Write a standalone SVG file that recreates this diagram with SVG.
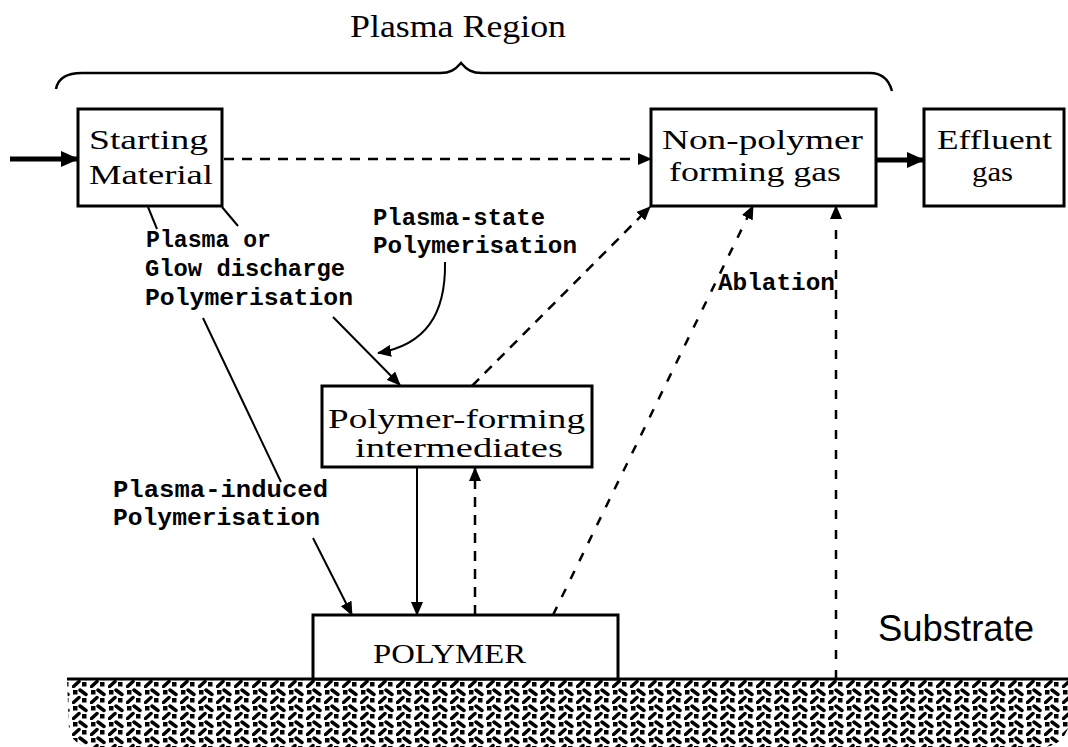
<svg xmlns="http://www.w3.org/2000/svg" width="1068" height="747" viewBox="0 0 1068 747">
<style>
.box{fill:#fff;stroke:#000;stroke-width:3}
.bt{font-family:"Liberation Serif","DejaVu Serif",serif;font-size:28px;fill:#000}
.lb{font-family:"Liberation Mono","DejaVu Sans Mono",monospace;font-weight:bold;font-size:23px;fill:#000}
.ln{fill:none;stroke:#000;stroke-width:2}
.thick{fill:none;stroke:#000;stroke-width:5}
.dash{fill:none;stroke:#000;stroke-width:2.5;stroke-dasharray:10 8}
.dash2{fill:none;stroke:#000;stroke-width:2.5;stroke-dasharray:9 11}
</style>
<defs>
<marker id="ah" markerUnits="userSpaceOnUse" markerWidth="14" markerHeight="12" refX="13" refY="6" orient="auto">
<path d="M0,0 L14,6 L0,12 Z" fill="#000"/>
</marker>
<marker id="ahb" markerUnits="userSpaceOnUse" markerWidth="18" markerHeight="16" refX="17" refY="8" orient="auto">
<path d="M0,0 L18,8 L0,16 Z" fill="#000"/>
</marker>
<pattern id="sub" patternUnits="userSpaceOnUse" width="18" height="16">
<rect width="18" height="16" fill="#fff"/>
<rect x="1" y="2" width="4.5" height="4.5" fill="#000"/>
<path d="M8,2 L14,6.5" stroke="#000" stroke-width="3.5" stroke-linecap="round"/>
<rect x="10" y="10" width="4.5" height="4.5" fill="#000"/>
<path d="M1.5,14.5 L7,9.5" stroke="#000" stroke-width="3.5" stroke-linecap="round"/>
</pattern>
</defs>

<g id="substrate">
<path d="M67,679 L1068,679 L1068,728 Q1062,745 1045,747 L92,747 Q72,745 69,730 Z" fill="url(#sub)"/>
<path d="M67,679 L1068,679" stroke="#000" stroke-width="3"/>
<text x="878" y="641" font-family="Liberation Sans, Arial, sans-serif" font-size="36" textLength="156" lengthAdjust="spacingAndGlyphs">Substrate</text>
</g>

<g id="plasma-region">
<path d="M56,89 C58,78 66,73 82,73 L440,73 C450,73 455,70 461,63 C467,70 472,73 482,73 L870,73 C882,73 889,80 892,91" fill="none" stroke="#000" stroke-width="2.5"/>
<text x="350" y="37" font-family="Liberation Serif, serif" font-size="32" textLength="216" lengthAdjust="spacingAndGlyphs">Plasma Region</text>
</g>

<g id="connectors">
<line class="thick" x1="10" y1="159" x2="78" y2="159" marker-end="url(#ahb)"/>
<line class="dash" x1="224" y1="159" x2="651" y2="159" marker-end="url(#ah)"/>
<line class="thick" x1="876" y1="160" x2="924" y2="160" marker-end="url(#ahb)"/>
<line class="ln" x1="148" y1="207" x2="157" y2="229"/>
<line class="ln" x1="203" y1="318" x2="281" y2="482"/>
<line class="ln" x1="313" y1="538" x2="352" y2="615" marker-end="url(#ah)"/>
<line class="ln" x1="222" y1="207" x2="238" y2="226"/>
<line class="ln" x1="333" y1="317" x2="400" y2="385" marker-end="url(#ah)"/>
<path class="ln" d="M445,262 C446,315 425,345 378,353" marker-end="url(#ah)"/>
<line class="dash" x1="472" y1="386" x2="650" y2="207" marker-end="url(#ah)"/>
<line class="ln" x1="417" y1="467" x2="417" y2="615" marker-end="url(#ah)"/>
<line class="dash" x1="475" y1="615" x2="475" y2="468" stroke-width="3" marker-end="url(#ah)"/>
<line class="dash2" x1="553" y1="615" x2="753" y2="206" marker-end="url(#ah)"/>
<line class="dash2" x1="836" y1="679" x2="836" y2="206" marker-end="url(#ah)"/>
</g>

<g id="starting-material">
<rect class="box" x="78" y="109" width="144" height="97"/>
<text class="bt" x="89" y="149" font-size="29" textLength="119" lengthAdjust="spacingAndGlyphs">Starting</text>
<text class="bt" x="89" y="184" font-size="29" textLength="124" lengthAdjust="spacingAndGlyphs">Material</text>
</g>

<g id="non-polymer-gas">
<rect class="box" x="651" y="109" width="225" height="97"/>
<text class="bt" x="662" y="149" font-size="27" textLength="201" lengthAdjust="spacingAndGlyphs">Non-polymer</text>
<text class="bt" x="669" y="181" font-size="27" textLength="172" lengthAdjust="spacingAndGlyphs">forming gas</text>
</g>

<g id="effluent-gas">
<rect class="box" x="924" y="109" width="140" height="97"/>
<text class="bt" x="937" y="149" font-size="27" textLength="115" lengthAdjust="spacingAndGlyphs">Effluent</text>
<text class="bt" x="972" y="181" font-size="27" textLength="41" lengthAdjust="spacingAndGlyphs">gas</text>
</g>

<g id="intermediates">
<rect class="box" x="322" y="386" width="270" height="81"/>
<text class="bt" x="328" y="428" font-size="26" textLength="257" lengthAdjust="spacingAndGlyphs">Polymer-forming</text>
<text class="bt" x="355" y="457" font-size="26" textLength="208" lengthAdjust="spacingAndGlyphs">intermediates</text>
</g>

<g id="polymer">
<rect class="box" x="313" y="615" width="305" height="64"/>
<text class="bt" x="373" y="663" font-size="32" textLength="153" lengthAdjust="spacingAndGlyphs">POLYMER</text>
</g>

<g id="labels">
<text class="lb" x="146" y="247" textLength="125" lengthAdjust="spacingAndGlyphs">Plasma or</text>
<text class="lb" x="145" y="276" textLength="200" lengthAdjust="spacingAndGlyphs">Glow discharge</text>
<text class="lb" x="145" y="305" textLength="208" lengthAdjust="spacingAndGlyphs">Polymerisation</text>
<text class="lb" x="373" y="225" textLength="172" lengthAdjust="spacingAndGlyphs">Plasma-state</text>
<text class="lb" x="373" y="253" textLength="204" lengthAdjust="spacingAndGlyphs">Polymerisation</text>
<text class="lb" x="718" y="290" textLength="117" lengthAdjust="spacingAndGlyphs">Ablation</text>
<text class="lb" x="113" y="497" textLength="215" lengthAdjust="spacingAndGlyphs">Plasma-induced</text>
<text class="lb" x="113" y="525" textLength="207" lengthAdjust="spacingAndGlyphs">Polymerisation</text>
</g>
</svg>
